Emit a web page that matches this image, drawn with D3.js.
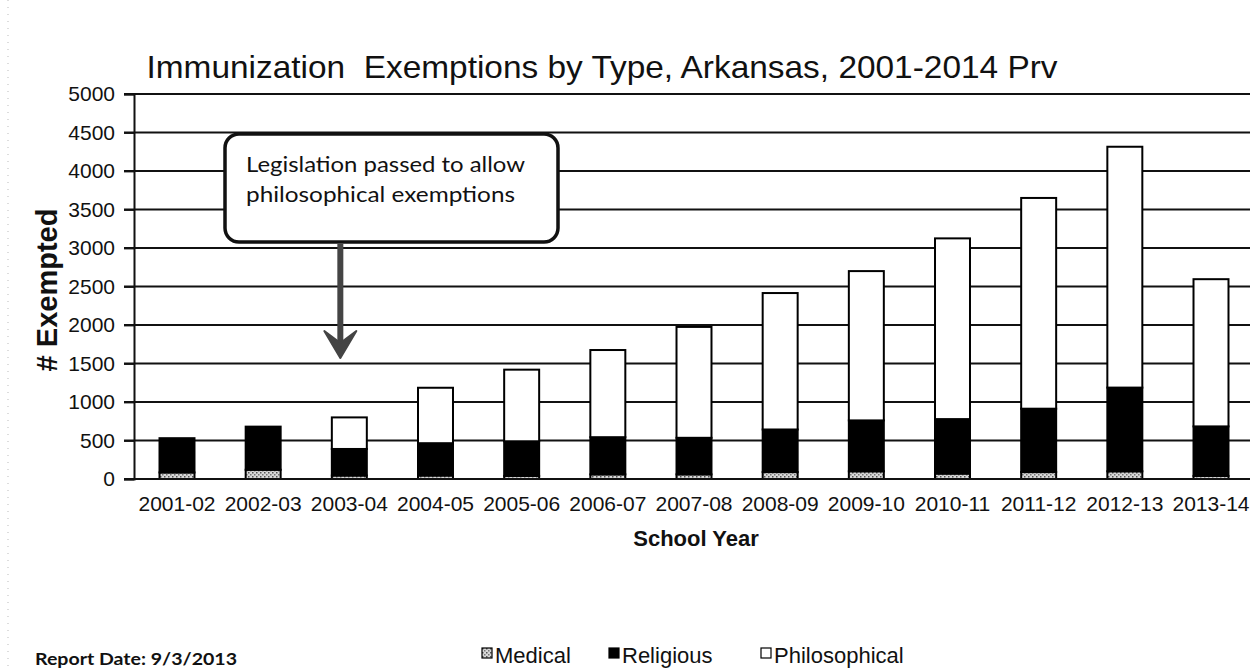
<!DOCTYPE html>
<html><head><meta charset="utf-8">
<script src="https://cdn.jsdelivr.net/npm/d3@7/dist/d3.min.js"></script>
<style>body{margin:0;background:#fff} svg{display:block}</style>
</head><body>
<svg id="c" width="1250" height="670"></svg>
<script>
const years = ["2001-02","2002-03","2003-04","2004-05","2005-06","2006-07","2007-08","2008-09","2009-10","2010-11","2011-12","2012-13","2013-14"];
const medical = [85,120,45,45,40,60,60,90,100,70,90,100,40];
const religious = [445,560,345,420,450,483,475,553,661,708,823,1087,643];
const philosophical = [0,0,410,720,930,1132,1440,1772,1939,2347,2737,3128,1912];
const seriesNames = ["Medical","Religious","Philosophical"];
const yTicks = [0,500,1000,1500,2000,2500,3000,3500,4000,4500,5000];
const titleText = "Immunization  Exemptions by Type, Arkansas, 2001-2014 Prv";
const noteLines = ["Legislation passed to allow","philosophical exemptions"];
const noteYear = "2003-04";
const reportDate = "Report Date: 9/3/2013";

const svg = d3.select("#c");
const F = "'Liberation Sans', Arial, sans-serif";
const CAL = "Lato, 'Open Sans', sans-serif";

// patterns
const defs = svg.append("defs");
const pat = defs.append("pattern").attr("id","hatch").attr("width",4).attr("height",4).attr("patternUnits","userSpaceOnUse");
pat.append("rect").attr("width",4).attr("height",4).attr("fill","#d8d8d8");
pat.append("rect").attr("width",1.5).attr("height",1.5).attr("fill","#555");
pat.append("rect").attr("x",2).attr("y",2).attr("width",1.5).attr("height",1.5).attr("fill","#777");

const x = d3.scaleBand().domain(years).range([134,1254]).paddingInner(0.594).paddingOuter(0.296);
const y = d3.scaleLinear().domain([0,5000]).range([479,94]);

// faint scan edge
svg.append("line").attr("x1",8).attr("x2",8).attr("y1",0).attr("y2",670)
  .attr("stroke","#bbb").attr("stroke-width",1).attr("stroke-dasharray","1,6");

// title
svg.append("text").attr("x",602).attr("y",78).attr("text-anchor","middle")
  .attr("font-family",F).attr("font-size",32).attr("fill","#111")
  .attr("textLength",911).attr("lengthAdjust","spacingAndGlyphs")
  .style("white-space","pre").text(titleText);

// gridlines
svg.append("g").selectAll("line").data(yTicks.filter(d=>d>0)).join("line")
  .attr("x1",124).attr("x2",1250).attr("y1",d=>y(d)).attr("y2",d=>y(d))
  .attr("stroke","#111").attr("stroke-width",1.8);

// y axis
const ya = svg.append("g").attr("transform","translate(134,0)")
  .call(d3.axisLeft(y).tickValues(yTicks).tickSize(10).tickPadding(9).tickFormat(d3.format("d")));
ya.select(".domain").attr("stroke","#111").attr("stroke-width",2);
ya.selectAll(".tick line").attr("stroke","#111").attr("stroke-width",1.8);
ya.selectAll("text").attr("font-family",F).attr("font-size",21).attr("fill","#111");

// y title
svg.append("text").attr("transform","translate(57,290) rotate(-90)").attr("text-anchor","middle")
  .attr("font-family",F).attr("font-weight","bold").attr("font-size",29).attr("fill","#111")
  .text("# Exempted");

// stacked bars
const table = years.map((yr,i)=>({year:yr, Medical:medical[i], Religious:religious[i], Philosophical:philosophical[i]}));
const stack = d3.stack().keys(seriesNames)(table);
const fills = {Medical:"url(#hatch)", Religious:"#000", Philosophical:"#fff"};
svg.append("g").selectAll("g").data(stack).join("g")
  .attr("fill",s=>fills[s.key])
  .selectAll("rect").data(s=>s.filter(d=>d[1]-d[0]>0)).join("rect")
  .attr("x",d=>x(d.data.year)).attr("width",x.bandwidth())
  .attr("y",d=>y(d[1])).attr("height",d=>y(d[0])-y(d[1]))
  .attr("stroke","#000").attr("stroke-width",2);

// x axis
const xa = svg.append("g").attr("transform","translate(0,479)")
  .call(d3.axisBottom(x).tickSize(0).tickPadding(17));
xa.select(".domain").attr("stroke","#111").attr("stroke-width",2).attr("d","M124,0H1250");
xa.selectAll("text").attr("font-family",F).attr("font-size",21).attr("fill","#111");

svg.append("text").attr("x",696).attr("y",546).attr("text-anchor","middle")
  .attr("font-family",F).attr("font-weight","bold").attr("font-size",22).attr("fill","#111")
  .text("School Year");

// annotation box
const cx = x(noteYear)+x.bandwidth()/2 - 9;
svg.append("rect").attr("x",225).attr("y",134).attr("width",333).attr("height",108).attr("rx",14)
  .attr("fill","#fff").attr("stroke","#111").attr("stroke-width",3.5);
svg.append("g").selectAll("text").data(noteLines).join("text")
  .attr("x",246).attr("y",(d,i)=>172+i*30)
  .attr("font-family",CAL).attr("font-size",21).attr("fill","#111")
  .attr("textLength",(d,i)=>i===0?279:269).attr("lengthAdjust","spacingAndGlyphs")
  .text(d=>d);
svg.append("line").attr("x1",cx).attr("x2",cx).attr("y1",244).attr("y2",346)
  .attr("stroke","#444").attr("stroke-width",6);
svg.append("path").attr("d",`M${cx-16},${331}L${cx},${358}L${cx+16},${331}L${cx},${343}Z`)
  .attr("fill","#444").attr("stroke","#444").attr("stroke-width",2).attr("stroke-linejoin","round");

// legend
const legX = [482,609,761];
const leg = svg.append("g").selectAll("g").data(seriesNames).join("g")
  .attr("transform",(d,i)=>`translate(${legX[i]},0)`);
leg.append("rect").attr("x",0).attr("y",648).attr("width",10).attr("height",10)
  .attr("fill",d=>fills[d]).attr("stroke","#000").attr("stroke-width",1.2);
leg.append("text").attr("x",13).attr("y",663)
  .attr("font-family",F).attr("font-size",22).attr("fill","#111").text(d=>d);

// report date
svg.append("text").attr("x",35).attr("y",665)
  .attr("font-family",CAL).attr("font-weight","bold").attr("font-size",17).attr("fill","#111")
  .attr("textLength",202).attr("lengthAdjust","spacingAndGlyphs").text(reportDate);
</script>
</body></html>
